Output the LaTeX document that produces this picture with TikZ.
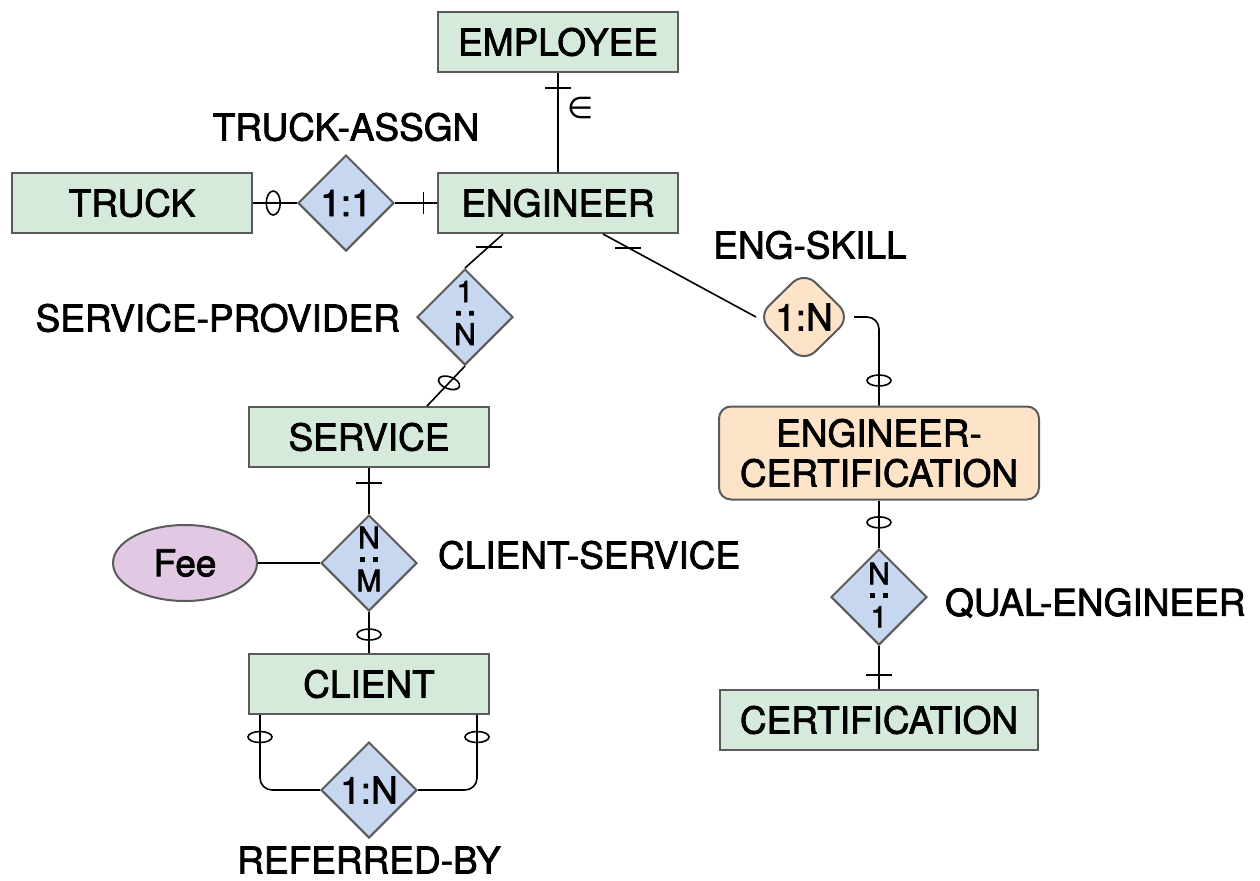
\documentclass[tikz,border=0pt]{standalone}
\usepackage{fontspec}
\setmainfont{TeX Gyre Heros}[FakeBold=2]
\newfontfamily\symf{DejaVu Sans}
\usetikzlibrary{shapes.geometric,calc}
\definecolor{entfill}{HTML}{D5EADB}
\definecolor{relfill}{HTML}{C8D7F0}
\definecolor{peach}{HTML}{FDE3C8}
\definecolor{feefill}{HTML}{E2C9E3}
\definecolor{edgegray}{HTML}{5A5A5A}
\newcommand{\hdots}{{\fontsize{19}{19}\selectfont .\kern1.2pt.}}
\newcommand{\vstack}[2]{#1\\[-8.5pt]\hdots\\#2}
\begin{document}
\begin{tikzpicture}[x=0.5pt,y=-0.5pt,
  every node/.style={font=\fontsize{18.5}{22}\selectfont},
  entity/.style={draw=edgegray, fill=entfill, line width=1pt, minimum width=120pt, minimum height=30pt, inner sep=0pt},
  rel/.style={diamond, aspect=1, draw=edgegray, fill=relfill, line width=1pt, minimum width=48pt, minimum height=48pt, inner sep=0pt},
  conn/.style={line width=0.8pt, black},
  stk/.style={font=\fontsize{15}{15}\selectfont, inner sep=0pt, align=center}
]
\useasboundingbox (0,0) rectangle (1260,880);

% entities
\node[entity] (emp) at (558,42) {EMPLOYEE};
\node[entity] (eng) at (558,203) {ENGINEER};
\node[entity] (truck) at (132,203) {TRUCK};
\node[entity] (service) at (369,437) {SERVICE};
\node[entity] (client) at (369,684) {CLIENT};
\node[entity, minimum width=159pt] (cert) at (879,720) {CERTIFICATION};
\node[entity, fill=peach, rounded corners=6pt, minimum width=160pt, minimum height=46.5pt, align=center,
  font=\fontsize{18.5}{20}\selectfont] (ec) at (879,453) {ENGINEER-\\CERTIFICATION};
\node[ellipse, draw=edgegray, fill=feefill, line width=1pt, minimum width=72pt, minimum height=38pt, inner sep=0pt] (fee) at (185,563) {Fee};

% relationships
\node[rel] (ta) at (346,203) {1:1};
\node[rel] (sp) at (465,317) {};
\node[rel] (cs) at (369,563) {};
\node[rel] (rb) at (369,790) {1:N};
\node[rel] (qe) at (879,597) {};
\node[rel, fill=peach, rounded corners=8pt, minimum width=47pt, minimum height=46pt] (es) at (804,317) {1:N};

% stacked cardinalities
\node[stk] (spc) at ($(sp.center)+(0,-4)$) {\vstack{1}{N}};
\node[stk] (csc) at ($(cs.center)+(0,-4)$) {\vstack{N}{M}};
\node[stk] (qec) at ($(qe.center)+(0,-2)$) {\vstack{N}{1}};

% labels
\node (talbl) at (346,127) {TRUCK-ASSGN};
\node[anchor=east] (splbl) at (407,318) {SERVICE-PROVIDER};
\node (eslbl) at (810,245) {ENG-SKILL};
\node[anchor=west] (cslbl) at (431,555) {CLIENT-SERVICE};
\node[anchor=west] (qelbl) at (938,603) {QUAL-ENGINEER};
\node (rblbl) at (369,860) {REFERRED-BY};
\node[font=\symf\fontsize{15}{17}\selectfont, inner sep=0pt] (isa) at (581,108) {∈};

% connectors
\draw[conn] (emp.south) -- (eng.north) coordinate[pos=0.15] (t1);
\draw[conn] ([xshift=-6.5pt]t1) -- ([xshift=6.5pt]t1);

\draw[conn] (truck.east) -- (ta.west) coordinate[pos=0.46] (o1);
\draw[conn] (o1) ellipse [x radius=7, y radius=12];
\draw[conn] (ta.east) -- (eng.west) coordinate[pos=0.68] (t2);
\draw[conn] ([yshift=-5.5pt]t2) -- ([yshift=5.5pt]t2);

\draw[conn] ([xshift=-27.5pt]eng.south) -- (sp.north) coordinate[pos=0.38] (t3);
\draw[conn] ([xshift=-6.5pt]t3) -- ([xshift=6.5pt]t3);
\draw[conn] (sp.south) -- ([xshift=29pt]service.north) coordinate[pos=0.42] (o2);
\draw[conn, rotate around={-20:(o2)}] (o2) ellipse [x radius=11, y radius=6];

\draw[conn] (service.south) -- (cs.north) coordinate[pos=0.33] (t4);
\draw[conn] ([xshift=-6.5pt]t4) -- ([xshift=6.5pt]t4);
\draw[conn] (fee.east) -- (cs.west);
\draw[conn] (cs.south) -- (client.north) coordinate[pos=0.55] (o3);
\draw[conn] (o3) ellipse [x radius=12, y radius=5.5];

\draw[conn, rounded corners=6pt] ([xshift=6pt]client.south west) coordinate (cl) |- (rb.west);
\coordinate (o4) at ($(cl)+(0,22)$);
\draw[conn] (o4) ellipse [x radius=12, y radius=5.5];
\draw[conn, rounded corners=6pt] ([xshift=-6.5pt]client.south east) coordinate (cr) |- (rb.east);
\coordinate (o5) at ($(cr)+(0,22)$);
\draw[conn] (o5) ellipse [x radius=12, y radius=5.5];

\draw[conn] ([xshift=22.5pt]eng.south) -- (es.west) coordinate[pos=0.165] (t5);
\draw[conn] ([xshift=-6.5pt]t5) -- ([xshift=6.5pt]t5);
\draw[conn, rounded corners=6pt] ([xshift=1pt]es.east) -| (ec.north);
\coordinate (o6) at ($(ec.north)+(0,-25)$);
\draw[conn] (o6) ellipse [x radius=12, y radius=5.5];

\draw[conn] (ec.south) -- (qe.north) coordinate[pos=0.46] (o7);
\draw[conn] (o7) ellipse [x radius=12, y radius=5.5];
\draw[conn] (qe.south) -- (cert.north) coordinate[pos=0.68] (t6);
\draw[conn] ([xshift=-6.5pt]t6) -- ([xshift=6.5pt]t6);
\end{tikzpicture}
\end{document}
